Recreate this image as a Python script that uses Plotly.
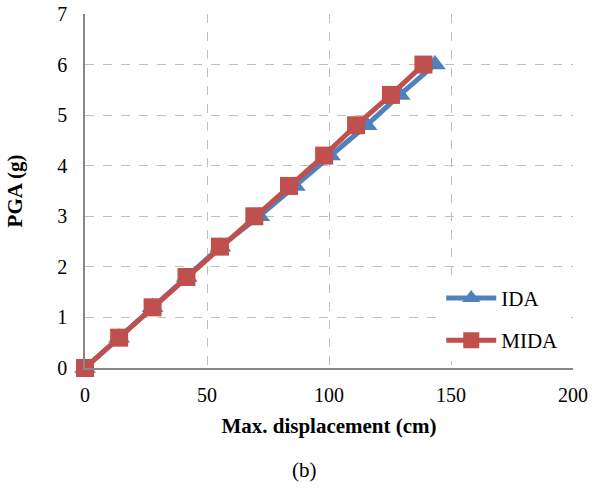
import plotly.graph_objects as go

pga = [0, 0.6, 1.2, 1.8, 2.4, 3.0, 3.6, 4.2, 4.8, 5.4, 6.0]
ida_disp = [0, 14, 27.7, 41.7, 55.5, 71.4, 86.0, 100.4, 115.4, 129.0, 143.4]
mida_disp = [0, 14, 27.7, 41.6, 55.3, 69.4, 83.6, 98.0, 111.1, 125.4, 138.7]

blue = "#4F81BD"
red = "#C0504D"
font = "Liberation Serif"

fig = go.Figure()
fig.add_trace(go.Scatter(x=ida_disp, y=pga, name="IDA", mode="lines+markers",
                         legendgroup="a", cliponaxis=False,
                         line=dict(color=blue, width=5),
                         marker=dict(symbol="triangle-up", size=19, color=blue)))
fig.add_trace(go.Scatter(x=mida_disp, y=pga, name="MIDA", mode="lines+markers",
                         legendgroup="b", cliponaxis=False,
                         line=dict(color=red, width=5),
                         marker=dict(symbol="square", size=18, color=red)))

grid = dict(showgrid=True, gridcolor="#BFBFBF", griddash="dash", gridwidth=1.3)
fig.update_xaxes(range=[0, 200], tickvals=[0, 50, 100, 150, 200], **grid,
                 showline=True, linecolor="#888888", linewidth=1.5, automargin=False,
                 ticklabeloverflow="allow",
                 zeroline=False, ticks="outside", ticklen=8, tickcolor="rgba(0,0,0,0)",
                 tickfont=dict(family=font, size=20, color="black"),
                 title=dict(text="<b>Max. displacement (cm)</b>", standoff=14,
                            font=dict(family=font, size=21, color="black")))
fig.update_yaxes(range=[0, 7], tickvals=list(range(8)), **grid,
                 showline=True, linecolor="#888888", linewidth=1.5, automargin=False,
                 ticklabeloverflow="allow",
                 zeroline=False, ticks="outside", ticklen=12, tickcolor="rgba(0,0,0,0)",
                 tickfont=dict(family=font, size=20, color="black"),
                 title=dict(text="<b>PGA (g)</b>", standoff=29,
                            font=dict(family=font, size=21, color="black")))

fig.update_layout(
    width=592, height=494,
    margin=dict(l=85, r=19, t=14, b=126),
    plot_bgcolor="white", paper_bgcolor="white",
    showlegend=True,
    legend=dict(x=0.73, y=0.255, xanchor="left", yanchor="top",
                bgcolor="white", font=dict(family=font, size=21, color="black"),
                itemwidth=50, tracegroupgap=12),
    annotations=[dict(text="(b)", xref="paper", yref="paper",
                      x=(304 - 85) / 488, y=-(470 - 368) / 354, yanchor="middle",
                      showarrow=False, font=dict(family=font, size=21, color="black"))],
)

fig.write_html("out.html", config={"displayModeBar": False},
               post_script="document.body.style.margin='0';document.body.style.overflow='hidden';")
